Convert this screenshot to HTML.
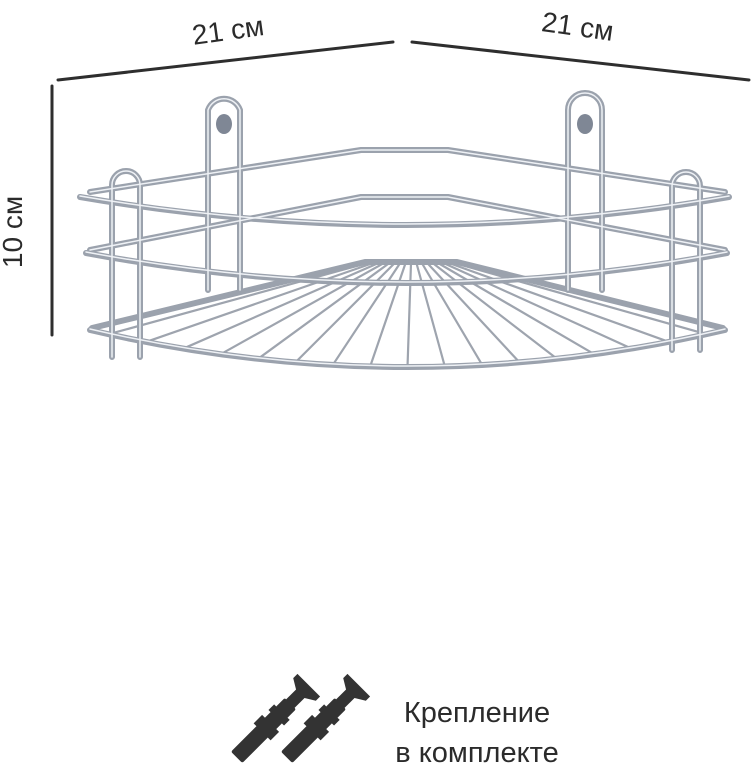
<!DOCTYPE html>
<html><head><meta charset="utf-8"><style>
html,body{margin:0;padding:0;background:#fff;}
svg{display:block}
text{font-family:"Liberation Sans",sans-serif;fill:#2b2b2b}
</style></head><body>
<svg id="s" width="756" height="768" viewBox="0 0 756 768" xmlns="http://www.w3.org/2000/svg">
<g stroke="#2e2e2e" stroke-width="3" fill="none" stroke-linecap="round">
<path d="M58,80 L393,42"/>
<path d="M412,42 L749,80"/>
<path d="M52,86 L52,335"/>
</g>
<text x="228" y="40" font-size="28" text-anchor="middle" transform="rotate(-8 228 30)">21 см</text>
<text x="578" y="36" font-size="28" text-anchor="middle" transform="rotate(8 578 24)">21 см</text>
<text x="32" y="242" font-size="28" text-anchor="middle" transform="rotate(-90 22 242)">10 см</text>

<g id="basket" fill="none" stroke-linecap="round" stroke-linejoin="round">
<g id="wires" stroke="#9ea4ae" stroke-width="2.2"></g>
<g stroke="#9ba2ad" stroke-width="6">
<path d="M208,290 L208,110 A17,17 0 0 1 240,110 L240,290"/>
<path d="M568,290 L568,110 A17,17 0 0 1 602,110 L602,290"/>
<path d="M90,192 L361,150 L448,150 L725,192"/>
<path d="M90,250 L361,197 L448,197 L725,250"/>
<path d="M92,328 L365,262 L457,262 L723,328"/>
<path d="M112,357 L112,185 A14,14 0 0 1 140,185 L140,357"/>
<path d="M672,350 L672,186 A14,14 0 0 1 700,186 L700,350"/>
<path d="M80,197 Q407,253 729,197"/>
<path d="M86,253 Q407,313 727,253"/>
<path d="M90,330 Q407,404 725,330"/>
</g>
<g stroke="#eef1f5" stroke-width="1.5">
<path d="M208,290 L208,110 A17,17 0 0 1 240,110 L240,290"/>
<path d="M568,290 L568,110 A17,17 0 0 1 602,110 L602,290"/>
<path d="M90,192 L361,150 L448,150 L725,192"/>
<path d="M90,250 L361,197 L448,197 L725,250"/>
<path d="M112,357 L112,185 A14,14 0 0 1 140,185 L140,357"/>
<path d="M672,350 L672,186 A14,14 0 0 1 700,186 L700,350"/>
<path d="M80,196 Q407,252 729,196"/>
<path d="M86,252 Q407,312 727,252"/>
<path d="M90,329 Q407,403 725,329"/>
</g>
<ellipse cx="224" cy="124" rx="8" ry="10" fill="#7f8795"/>
<ellipse cx="585" cy="124" rx="8" ry="10" fill="#7f8795"/>
</g>

<g fill="#333">
<g transform="translate(272,722) rotate(-45)">
<rect x="-50" y="-8" width="76" height="16" rx="2"/>
<polygon points="24,-6 40,-6 46,-16 52,-16 52,16 46,16 40,6 24,6"/>
<polygon points="-14,-12 -2,-12 -2,12 -14,12"/>
<polygon points="6,-11 14,-11 14,11 6,11"/>
</g>
<g transform="translate(322,722) rotate(-45)">
<rect x="-50" y="-8" width="76" height="16" rx="2"/>
<polygon points="24,-6 40,-6 46,-16 52,-16 52,16 46,16 40,6 24,6"/>
<polygon points="-14,-12 -2,-12 -2,12 -14,12"/>
<polygon points="6,-11 14,-11 14,11 6,11"/>
</g>
</g>
<text x="477" y="722" font-size="29" text-anchor="middle">Крепление</text>
<text x="477" y="762" font-size="29" text-anchor="middle">в комплекте</text>
</svg>
<script>
var g=document.getElementById('wires'),n=17,s='';
for(var i=0;i<n;i++){var t=(i+0.5)/n;var x=90+635*t,y=330+148*t*(1-t);
var bx=365+92*t;s+='<path d="M'+bx+',263 L'+x+','+y+'"/>';}
g.innerHTML=s;
</script>
</body></html>
